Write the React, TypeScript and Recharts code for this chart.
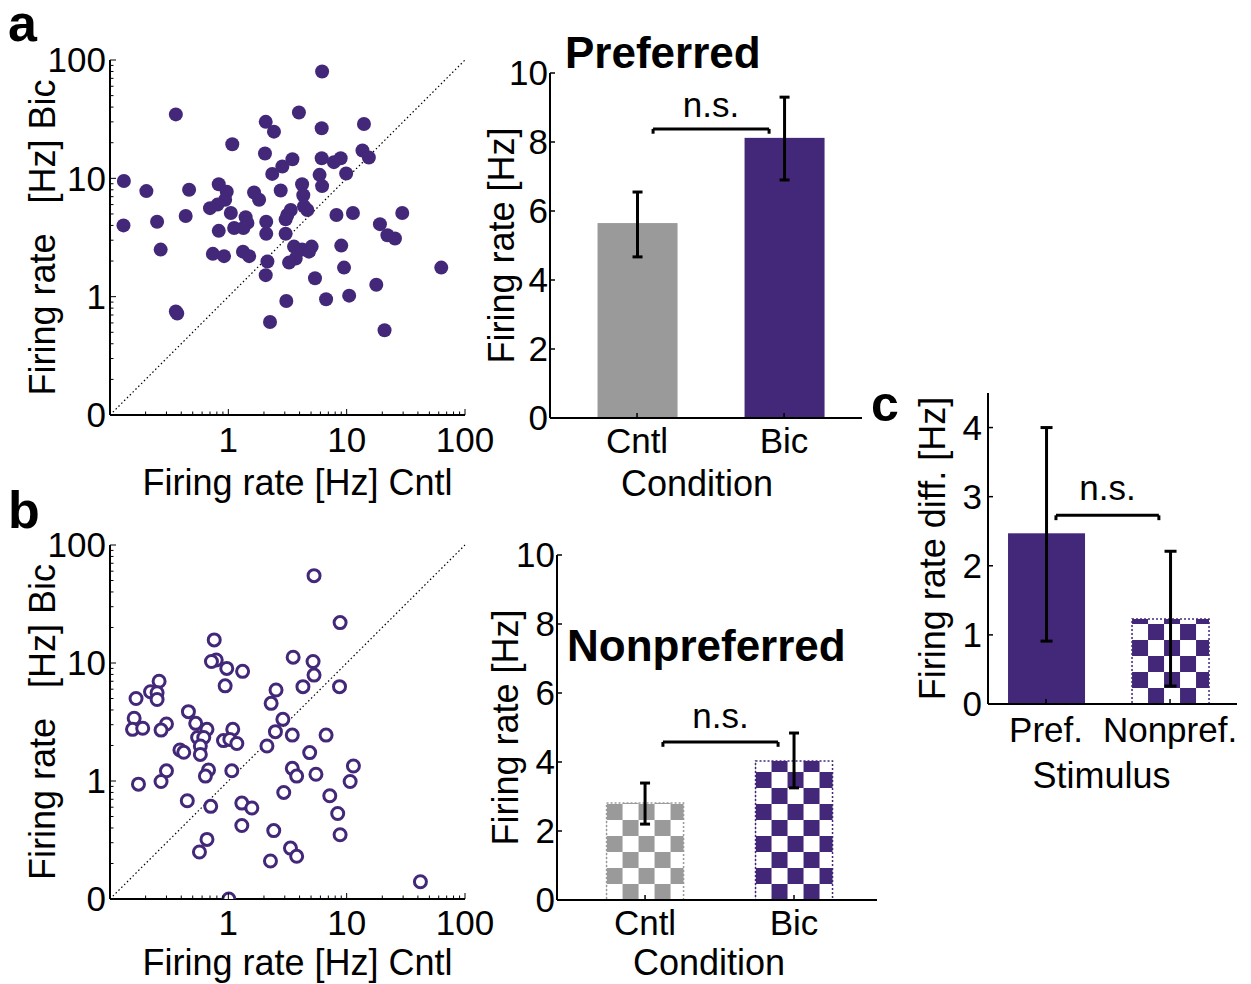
import React from "react";
import {
  ScatterChart,
  Scatter,
  BarChart,
  Bar,
  ErrorBar,
  XAxis,
  YAxis,
  ReferenceLine,
  Label,
} from "recharts";

const PURPLE = "#432879";
const GRAY = "#9a9a9a";
const FONT = '"Liberation Sans", Arial, Helvetica, sans-serif';
const FS = 35;
const LFS = 36;

// a: preferred stimulus, one dot per cell (Cntl vs Bic firing rate, Hz)
const prefCntl = [
  6.2, 0.36, 3.95, 2.07, 2.43, 6.15, 14.0, 1.08, 2.04, 13.6, 15.4, 3.48, 2.86, 6.15, 7.8, 8.9,
  2.35, 5.9, 9.9, 0.131, 6.2, 0.83, 4.2, 0.203, 0.466, 0.97, 1.65, 2.77, 4.3, 1.82, 0.94, 0.81,
  0.7, 4.36, 4.65, 3.37, 11.3, 29.5, 1.05, 0.436, 8.2, 1.4, 3.15, 3.05, 1.45, 2.09, 0.25, 0.13,
  19.1, 1.12, 0.83, 1.34, 2.09, 3.05, 22.1, 25.6, 9.0, 3.59, 4.2, 5.06, 4.8, 0.268, 0.74, 0.92,
  1.33, 1.5, 3.71, 3.26, 2.14, 9.5, 63, 2.07, 5.4, 17.8, 10.5, 6.7, 3.09, 0.36, 0.37, 2.25, 20.9,
];
const prefBic = [
  80, 34.7, 36, 30, 24.8, 26.5, 28.8, 19.4, 16.2, 17.2, 15.0, 14.5, 12.6, 14.8, 13.7, 14.8,
  10.9, 10.7, 11.0, 9.5, 8.6, 8.9, 8.9, 7.8, 8.0, 7.7, 7.6, 7.9, 7.2, 6.6, 6.6, 6.0,
  5.6, 5.8, 5.4, 5.4, 5.1, 5.1, 5.1, 4.8, 4.9, 4.7, 4.9, 4.5, 4.2, 4.3, 4.3, 4.0,
  4.1, 3.8, 3.6, 3.8, 3.4, 3.4, 3.3, 3.1, 2.7, 2.65, 2.5, 2.65, 2.4, 2.5, 2.3, 2.2,
  2.4, 2.2, 2.1, 1.94, 1.98, 1.76, 1.76, 1.52, 1.43, 1.26, 1.02, 0.95, 0.92, 0.75, 0.72, 0.61, 0.52,
];

// b: nonpreferred stimulus
const nonprefCntl = [
  5.3, 8.8, 0.76, 0.79, 0.72, 3.53, 5.2, 0.97, 1.32, 5.3, 0.94, 8.7, 4.27, 2.53, 0.26, 0.22,
  0.25, 0.25, 0.166, 2.3, 0.46, 0.53, 0.16, 2.89, 0.155, 0.189, 0.3, 0.27, 0.66, 1.09, 2.5, 0.55,
  0.62, 3.47, 6.7, 0.91, 1.03, 1.18, 0.58, 2.12, 0.39, 0.42, 0.58, 4.87, 0.3, 0.68, 0.64, 1.07,
  3.47, 3.78, 5.5, 11.4, 0.174, 0.27, 10.7, 2.94, 7.2, 0.45, 1.3, 1.58, 0.71, 8.4, 1.3, 2.42,
  8.8, 0.66, 0.57, 3.35, 3.78, 2.27, 42, 1.01,
];
const nonprefBic = [
  55, 22, 15.7, 10.6, 10.3, 11.2, 10.3, 9.0, 8.5, 7.9, 6.4, 6.3, 6.3, 5.9, 7.0, 5.7,
  5.6, 4.9, 5.0, 4.55, 3.87, 3.08, 3.4, 3.33, 2.74, 2.8, 3.04, 2.7, 2.74, 2.74, 2.62, 2.34,
  2.34, 2.45, 2.45, 2.2, 2.25, 2.08, 1.98, 1.98, 1.83, 1.75, 1.68, 1.74, 1.22, 1.24, 1.1, 1.22,
  1.28, 1.1, 1.14, 1.34, 0.94, 0.99, 0.99, 0.8, 0.75, 0.68, 0.65, 0.59, 0.61, 0.53, 0.42, 0.38,
  0.35, 0.32, 0.25, 0.27, 0.23, 0.21, 0.14, 0.1,
];

const scatterXTicks = [1, 10, 100];
const scatterXTickLabels = ["1", "10", "100"];
const scatterYTicks = [0.1, 1, 10, 100];
const scatterYTickLabels = ["0", "1", "10", "100"];

// minor log ticks 0.2..0.9, 2..9, 20..90
const minorLogTicks: number[] = [];
[0.1, 1, 10].forEach((d) => {
  for (let k = 2; k <= 9; k++) minorLogTicks.push(Math.round(d * k * 10) / 10);
});

const conditions = ["Cntl", "Bic"];
const prefMeans = [5.65, 8.12];
const prefErrLow = [0.98, 1.22];
const prefErrHigh = [0.9, 1.18];
const nonprefMeans = [2.81, 4.03];
const nonprefErrLow = [0.61, 0.78];
const nonprefErrHigh = [0.58, 0.81];
const stimuli = ["Pref.", "Nonpref."];
const diffMeans = [2.47, 1.23];
const diffErrLow = [1.56, 0.97];
const diffErrHigh = [1.53, 0.98];
const rateTicks = [0, 2, 4, 6, 8, 10];
const diffTicks = [0, 1, 2, 3, 4];

const axisLine = { stroke: "#000", strokeWidth: 2 };
const labelStyle = { fontSize: LFS, fill: "#000" };

type ScatterProps = {
  left: number;
  top: number;
  height: number;
  marginTop: number;
  marginBottom: number;
  xTickGap: number;
  xLabelOffset: number;
  xs: number[];
  ys: number[];
  open: boolean;
};

const ScatterPanel: React.FC<ScatterProps> = (p) => {
  const data = p.xs.map((x, i) => ({ x, y: p.ys[i] }));

  const xTick = (t: any) => {
    const i = scatterXTicks.indexOf(t.payload.value);
    const ay = t.y - p.xTickGap;
    return (
      <g>
        <line x1={t.x} x2={t.x} y1={ay} y2={ay - (i >= 0 ? 6 : 3.5)} stroke="#000" strokeWidth={1} />
        {i >= 0 && (
          <text x={t.x} y={t.y} dy="0.71em" textAnchor="middle" fontSize={FS} fill="#000">
            {scatterXTickLabels[i]}
          </text>
        )}
      </g>
    );
  };

  const yTick = (t: any) => {
    const i = scatterYTicks.indexOf(t.payload.value);
    const ax = t.x + 4;
    return (
      <g>
        <line x1={ax} x2={ax + (i >= 0 ? 6 : 3.5)} y1={t.y} y2={t.y} stroke="#000" strokeWidth={1} />
        {i >= 0 && (
          <text x={t.x} y={t.y} dy="0.355em" textAnchor="end" fontSize={FS} fill="#000">
            {scatterYTickLabels[i]}
          </text>
        )}
      </g>
    );
  };

  const dot = (d: any) =>
    p.open ? (
      <circle cx={d.cx} cy={d.cy} r={6} fill="#fff" stroke={PURPLE} strokeWidth={3} />
    ) : (
      <circle cx={d.cx} cy={d.cy} r={7} fill={PURPLE} />
    );

  return (
    <div style={{ position: "absolute", left: p.left, top: p.top, fontFamily: FONT }}>
      <ScatterChart
        width={510}
        height={p.height}
        margin={{ top: p.marginTop, right: 45, bottom: p.marginBottom, left: 20 }}
      >
        <XAxis
          type="number"
          dataKey="x"
          scale="log"
          domain={[0.1, 100]}
          allowDataOverflow
          ticks={[0.1, ...minorLogTicks, ...scatterXTicks]}
          interval={0}
          tick={xTick}
          tickLine={false}
          tickSize={0}
          tickMargin={p.xTickGap}
          axisLine={axisLine}
          height={40}
        >
          <Label value="Firing rate [Hz] Cntl" position="bottom" offset={p.xLabelOffset} dx={10} style={labelStyle} />
        </XAxis>
        <YAxis
          type="number"
          dataKey="y"
          scale="log"
          domain={[0.1, 100]}
          allowDataOverflow
          ticks={[...minorLogTicks, ...scatterYTicks]}
          interval={0}
          tick={yTick}
          tickLine={false}
          tickSize={0}
          tickMargin={4}
          axisLine={axisLine}
          width={90}
        >
          <Label
            value={"Firing rate\u00a0\u00a0 [Hz] Bic"}
            angle={-90}
            position="insideLeft"
            offset={22}
            style={{ ...labelStyle, textAnchor: "middle" }}
          />
        </YAxis>
        <ReferenceLine
          segment={[
            { x: 0.1, y: 0.1 },
            { x: 100, y: 100 },
          ]}
          stroke="#000"
          strokeWidth={1.2}
          strokeDasharray="1.5 2.5"
          ifOverflow="visible"
        />
        <Scatter data={data} isAnimationActive={false} shape={dot} />
      </ScatterChart>
    </div>
  );
};

type BarStyle = { color: string; checker: boolean };

type BarProps = {
  uid: string;
  left: number;
  top: number;
  width: number;
  height: number;
  margin: { top: number; right: number; bottom: number; left: number };
  yAxisWidth: number;
  xDomain: [number, number];
  yDomain: [number, number];
  yTicks: number[];
  cats: string[];
  means: number[];
  errLow: number[];
  errHigh: number[];
  styles: BarStyle[];
  barSize: number;
  capWidth: number;
  xTickGap: number;
  yTickGap: number;
  xLabel: string;
  xLabelOffset: number;
  xLabelDx: number;
  yLabel: string;
  yLabelOffset: number;
  bracket: { x1: number; x2: number; y: number; drop: number; offset: number };
};

const BarPanel: React.FC<BarProps> = (p) => {
  const data = p.cats.map((name, i) => ({
    pos: i + 1,
    name,
    mean: p.means[i],
    err: [p.errLow[i], p.errHigh[i]],
  }));

  const xTick = (t: any) => {
    const ay = t.y - p.xTickGap;
    const label = p.cats[Math.round(t.payload.value) - 1];
    return (
      <g>
        <line x1={t.x} x2={t.x} y1={ay} y2={ay - 5} stroke="#000" strokeWidth={1.5} />
        <text x={t.x} y={t.y} dy="0.71em" textAnchor="middle" fontSize={FS} fill="#000">
          {label}
        </text>
      </g>
    );
  };

  const yTick = (t: any) => {
    const ax = t.x + p.yTickGap;
    return (
      <g>
        <line x1={ax} x2={ax + 5} y1={t.y} y2={t.y} stroke="#000" strokeWidth={1.5} />
        <text x={t.x} y={t.y} dy="0.355em" textAnchor="end" fontSize={FS} fill="#000">
          {t.payload.value}
        </text>
      </g>
    );
  };

  const barShape = (b: any) => {
    const idx = (b.payload?.pos ?? 1) - 1;
    const st = p.styles[idx];
    const { x, y, width, height } = b;
    if (!st.checker) return <rect x={x} y={y} width={width} height={height} fill={st.color} />;
    const id = `${p.uid}-chk-${idx}`;
    const c = 16;
    return (
      <g>
        <defs>
          <pattern id={id} patternUnits="userSpaceOnUse" x={x} y={y + height} width={2 * c} height={2 * c}>
            <rect width={2 * c} height={2 * c} fill="#fff" />
            <rect x={0} y={0} width={c} height={c} fill={st.color} />
            <rect x={c} y={c} width={c} height={c} fill={st.color} />
          </pattern>
        </defs>
        <rect
          x={x}
          y={y}
          width={width}
          height={height}
          fill={`url(#${id})`}
          stroke={st.color}
          strokeWidth={1.5}
          strokeDasharray="2 2"
        />
      </g>
    );
  };

  const br = p.bracket;

  return (
    <div style={{ position: "absolute", left: p.left, top: p.top, fontFamily: FONT }}>
      <BarChart width={p.width} height={p.height} data={data} margin={p.margin}>
        <XAxis
          type="number"
          dataKey="pos"
          domain={p.xDomain}
          allowDataOverflow
          ticks={[1, 2]}
          interval={0}
          tick={xTick}
          tickLine={false}
          tickSize={0}
          tickMargin={p.xTickGap}
          axisLine={axisLine}
          height={40}
        >
          <Label value={p.xLabel} position="bottom" offset={p.xLabelOffset} dx={p.xLabelDx} style={labelStyle} />
        </XAxis>
        <YAxis
          type="number"
          domain={p.yDomain}
          allowDataOverflow
          ticks={p.yTicks}
          interval={0}
          tick={yTick}
          tickLine={false}
          tickSize={0}
          tickMargin={p.yTickGap}
          axisLine={axisLine}
          width={p.yAxisWidth}
        >
          <Label
            value={p.yLabel}
            angle={-90}
            position="insideLeft"
            offset={p.yLabelOffset}
            style={{ ...labelStyle, textAnchor: "middle" }}
          />
        </YAxis>
        <Bar dataKey="mean" barSize={p.barSize} shape={barShape} isAnimationActive={false}>
          <ErrorBar
            dataKey="err"
            direction="y"
            width={p.capWidth}
            strokeWidth={3}
            stroke="#000"
            isAnimationActive={false}
          />
        </Bar>
        <ReferenceLine
          segment={[
            { x: br.x1, y: br.y },
            { x: br.x2, y: br.y },
          ]}
          stroke="#000"
          strokeWidth={3}
          ifOverflow="visible"
        >
          <Label value="n.s." position="top" offset={br.offset} style={{ fontSize: FS, fill: "#000" }} />
        </ReferenceLine>
        <ReferenceLine
          segment={[
            { x: br.x1, y: br.y },
            { x: br.x1, y: br.drop },
          ]}
          stroke="#000"
          strokeWidth={3}
          ifOverflow="visible"
        />
        <ReferenceLine
          segment={[
            { x: br.x2, y: br.y },
            { x: br.x2, y: br.drop },
          ]}
          stroke="#000"
          strokeWidth={3}
          ifOverflow="visible"
        />
      </BarChart>
    </div>
  );
};

export default function App() {
  return (
    <div
      style={{
        position: "absolute",
        left: 0,
        top: 0,
        width: 1251,
        height: 984,
        background: "#fff",
        overflow: "hidden",
        fontFamily: FONT,
      }}
    >
      <ScatterPanel
        left={0}
        top={0}
        height={510}
        marginTop={60}
        marginBottom={55}
        xTickGap={12}
        xLabelOffset={14}
        xs={prefCntl}
        ys={prefBic}
        open={false}
      />
      <ScatterPanel
        left={0}
        top={490}
        height={494}
        marginTop={55}
        marginBottom={45}
        xTickGap={11}
        xLabelOffset={10}
        xs={nonprefCntl}
        ys={nonprefBic}
        open={true}
      />
      <BarPanel
        uid="pa"
        left={480}
        top={0}
        width={400}
        height={510}
        margin={{ top: 73, right: 18, bottom: 52, left: 0 }}
        yAxisWidth={70}
        xDomain={[0.408, 2.53]}
        yDomain={[0, 10]}
        yTicks={rateTicks}
        cats={conditions}
        means={prefMeans}
        errLow={prefErrLow}
        errHigh={prefErrHigh}
        styles={[
          { color: GRAY, checker: false },
          { color: PURPLE, checker: false },
        ]}
        barSize={80}
        capWidth={5}
        xTickGap={10}
        yTickGap={2}
        xLabel="Condition"
        xLabelOffset={12}
        xLabelDx={-9}
        yLabel="Firing rate [Hz]"
        yLabelOffset={21}
        bracket={{ x1: 1.109, x2: 1.898, y: 8.38, drop: 8.24, offset: 12 }}
      />
      <BarPanel
        uid="pb"
        left={480}
        top={490}
        width={400}
        height={494}
        margin={{ top: 65, right: 3, bottom: 44, left: 0 }}
        yAxisWidth={77}
        xDomain={[0.409, 2.557]}
        yDomain={[0, 10]}
        yTicks={rateTicks}
        cats={conditions}
        means={nonprefMeans}
        errLow={nonprefErrLow}
        errHigh={nonprefErrHigh}
        styles={[
          { color: GRAY, checker: true },
          { color: PURPLE, checker: true },
        ]}
        barSize={77}
        capWidth={5}
        xTickGap={10}
        yTickGap={2}
        xLabel="Condition"
        xLabelOffset={9}
        xLabelDx={-8}
        yLabel="Firing rate [Hz]"
        yLabelOffset={25}
        bracket={{ x1: 1.12, x2: 1.893, y: 4.58, drop: 4.44, offset: 14 }}
      />
      <BarPanel
        uid="pc"
        left={870}
        top={380}
        width={381}
        height={420}
        margin={{ top: 13, right: 14, bottom: 56, left: 0 }}
        yAxisWidth={118}
        xDomain={[0.532, 2.54]}
        yDomain={[0, 4.5]}
        yTicks={diffTicks}
        cats={stimuli}
        means={diffMeans}
        errLow={diffErrLow}
        errHigh={diffErrHigh}
        styles={[
          { color: PURPLE, checker: false },
          { color: PURPLE, checker: true },
        ]}
        barSize={77}
        capWidth={6}
        xTickGap={13}
        yTickGap={6}
        xLabel="Stimulus"
        xLabelOffset={18}
        xLabelDx={-11}
        yLabel="Firing rate diff. [Hz]"
        yLabelOffset={62}
        bracket={{ x1: 1.08, x2: 1.91, y: 2.73, drop: 2.66, offset: 15 }}
      />
      <svg
        width={1251}
        height={984}
        style={{ position: "absolute", left: 0, top: 0, pointerEvents: "none" }}
      >
        <g fontFamily={FONT} fontWeight="bold" fill="#000">
          <text x={8} y={41} fontSize={52}>a</text>
          <text x={8} y={528} fontSize={52}>b</text>
          <text x={871} y={421} fontSize={50}>c</text>
          <text x={565} y={68} fontSize={44}>Preferred</text>
          <text x={567} y={661} fontSize={44}>Nonpreferred</text>
        </g>
      </svg>
    </div>
  );
}
